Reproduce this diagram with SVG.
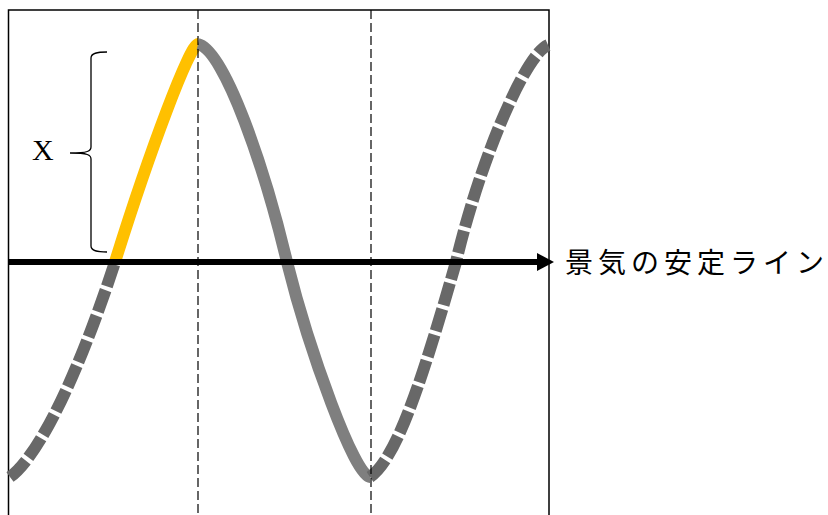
<svg xmlns="http://www.w3.org/2000/svg" width="828" height="515" viewBox="0 0 828 515">
  <style>
    .frame { fill: none; stroke: #000; stroke-width: 1.5; }
    .guide { fill: none; stroke: #000; stroke-width: 1.2; stroke-dasharray: 9 4; }
    .wave { fill: none; stroke-width: 12; stroke-linecap: butt; stroke-linejoin: round; }
    .solid { stroke: #7f7f7f; }
    .dashed { stroke: #686868; stroke-dasharray: 23 4; }
    .rise { stroke: #ffc000; }
    .brace { fill: none; stroke: #000; stroke-width: 1.3; }
    .label { font-family: "Liberation Serif", "Times New Roman", serif; fill: #000; }
    .jp { font-family: "Noto Sans CJK JP", "Noto Sans CJK SC", sans-serif; fill: #000; }
  </style>
  <rect width="828" height="515" fill="#fff"/>
  <g id="frame">
    <path class="frame" d="M8.5,520 L8.5,10 L549,10 L549,520"/>
  </g>
  <g id="wave">
    <path class="wave dashed" d="M10,477 C40,455 80,370 115,262"/>
    <path class="wave rise" d="M115,262 C150,150 190,44 198,44"/>
    <path class="wave solid" d="M198,44 C225,50 265,170 287,262 C309.5,352 355,477 370,477"/>
    <path class="wave dashed" d="M370,477 C398,458 425,370 456,262 C480,160 525,55 548,45"/>
  </g>
  <g id="connectors">
    <line class="guide" x1="198" y1="10" x2="198" y2="515"/>
    <line class="guide" x1="371" y1="10" x2="371" y2="515"/>
    <line x1="8" y1="262" x2="540" y2="262" stroke="#000" stroke-width="6"/>
    <polygon points="537,253 554,262 537,271" fill="#000"/>
  </g>
  <g id="brace-x">
    <path class="brace" d="M107,52 C97,52 91,53 91,58 L91,147 C91,151 88,153 70,153 C88,153 91,155 91,159 L91,246 C91,251 97,252 107,252"/>
    <text class="label" x="32" y="160" font-size="30">X</text>
  </g>
  <g id="stable-line-label">
    <text class="jp" x="565" y="273" font-size="28" letter-spacing="5">景気の安定ライン</text>
  </g>
</svg>
